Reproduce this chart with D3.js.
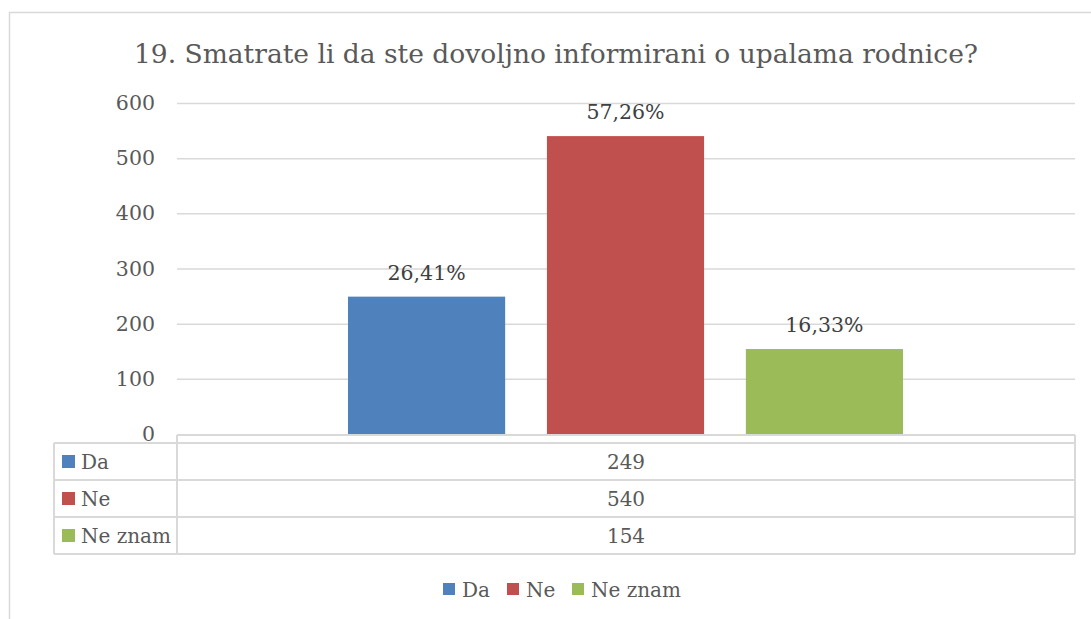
<!DOCTYPE html>
<html lang="hr">
<head>
  <meta charset="UTF-8" />
  <title>19. Smatrate li da ste dovoljno informirani o upalama rodnice?</title>
  <script src="https://d3js.org/d3.v7.min.js"></script>
  <style>
    body {
      margin: 0;
      background: #fff;
    }
    svg {
      display: block;
      font-family: "DejaVu Serif", serif;
    }
  </style>
</head>
<body>
  <div id="chart"></div>

  <script>
    const title = "19. Smatrate li da ste dovoljno informirani o upalama rodnice?";
    const categories = ["Da", "Ne", "Ne znam"];
    const counts = [249, 540, 154];
    const percentLabels = ["26,41%", "57,26%", "16,33%"];
    const colors = ["#4f81bd", "#c0504d", "#9bbb59"];
    const yTicks = [0, 100, 200, 300, 400, 500, 600];

    const width = 1091;
    const height = 619;
    const textGrey = "#595959";
    const lineGrey = "#d9d9d9";

    const svg = d3.select("#chart")
      .append("svg")
      .attr("width", width)
      .attr("height", height);

    // chart frame (runs off the right and bottom of the picture)
    svg.append("path")
      .attr("d", "M9.5,619V12.5H1091")
      .attr("fill", "none")
      .attr("stroke", lineGrey)
      .attr("stroke-width", 1.5);

    svg.append("text")
      .attr("x", 556)
      .attr("y", 63)
      .attr("text-anchor", "middle")
      .attr("fill", textGrey)
      .attr("font-size", 26.5)
      .text(title);

    // plot area
    const plotLeft = 177, plotRight = 1075;
    const y = d3.scaleLinear().domain([0, 600]).range([434, 103]);

    const x0 = d3.scaleBand().domain(["all"]).range([plotLeft, plotRight]);
    const x = d3.scaleBand()
      .domain(categories)
      .range([348, 903])
      .paddingInner(0.21);

    const yAxis = d3.axisLeft(y)
      .tickValues(yTicks)
      .tickSize(-(plotRight - plotLeft))
      .tickPadding(22);

    const gy = svg.append("g")
      .attr("transform", `translate(${plotLeft},0)`)
      .call(yAxis);
    gy.select(".domain").remove();
    gy.selectAll(".tick line")
      .attr("stroke", lineGrey)
      .attr("stroke-width", 1.5)
      .filter(d => d === 0).remove();
    gy.selectAll(".tick text")
      .attr("fill", textGrey)
      .attr("font-size", 20.5)
      .attr("font-family", "DejaVu Serif, serif");

    svg.append("g")
      .selectAll("rect")
      .data(categories)
      .join("rect")
      .attr("x", d => x(d))
      .attr("width", x.bandwidth())
      .attr("y", (d, i) => y(counts[i]))
      .attr("height", (d, i) => y(0) - y(counts[i]))
      .attr("fill", (d, i) => colors[i]);

    svg.append("g")
      .selectAll("text")
      .data(categories)
      .join("text")
      .attr("x", d => x(d) + x.bandwidth() / 2)
      .attr("y", (d, i) => y(counts[i]) - 17)
      .attr("text-anchor", "middle")
      .attr("fill", "#404040")
      .attr("font-size", 20.5)
      .text((d, i) => percentLabels[i]);

    // data table under the axis
    const tableLeft = 54;
    const rowTop = 443;
    const rowH = 37;
    const tableBottom = rowTop + rowH * categories.length;
    const table = svg.append("g")
      .attr("fill", "none")
      .attr("stroke", lineGrey)
      .attr("stroke-width", 2);

    table.append("line")
      .attr("x1", plotLeft).attr("x2", plotRight)
      .attr("y1", y(0) + 1).attr("y2", y(0) + 1);
    d3.range(categories.length + 1).forEach(i => {
      table.append("line")
        .attr("x1", tableLeft).attr("x2", plotRight)
        .attr("y1", rowTop + i * rowH).attr("y2", rowTop + i * rowH);
    });
    table.append("line")
      .attr("x1", tableLeft).attr("x2", tableLeft)
      .attr("y1", rowTop).attr("y2", tableBottom);
    [plotLeft, plotRight].forEach(px => {
      table.append("line")
        .attr("x1", px).attr("x2", px)
        .attr("y1", y(0) + 1).attr("y2", tableBottom);
    });

    const rows = svg.append("g")
      .selectAll("g")
      .data(categories)
      .join("g")
      .attr("transform", (d, i) => `translate(0,${rowTop + i * rowH})`);

    rows.append("rect")
      .attr("x", 62)
      .attr("y", 12)
      .attr("width", 13)
      .attr("height", 13)
      .attr("fill", (d, i) => colors[i]);

    rows.append("text")
      .attr("x", 81)
      .attr("y", 26)
      .attr("fill", textGrey)
      .attr("font-size", 20)
      .text(d => d);

    rows.append("text")
      .attr("x", x0("all") + x0.bandwidth() / 2)
      .attr("y", 26)
      .attr("text-anchor", "middle")
      .attr("fill", textGrey)
      .attr("font-size", 20)
      .text((d, i) => counts[i]);

    // legend
    const legendX = [443, 507, 572];
    const legend = svg.append("g")
      .selectAll("g")
      .data(categories)
      .join("g")
      .attr("transform", (d, i) => `translate(${legendX[i]},583)`);

    legend.append("rect")
      .attr("width", 12)
      .attr("height", 12)
      .attr("fill", (d, i) => colors[i]);

    legend.append("text")
      .attr("x", 19)
      .attr("y", 14)
      .attr("fill", textGrey)
      .attr("font-size", 20)
      .text(d => d);
  </script>
</body>
</html>
